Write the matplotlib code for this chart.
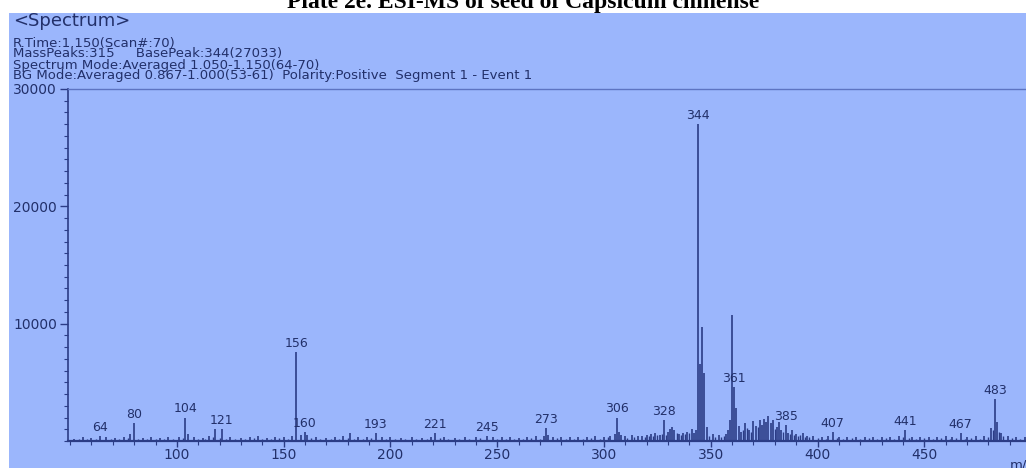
import matplotlib
matplotlib.use("Agg")
import matplotlib.pyplot as plt
from matplotlib.patches import Rectangle
from matplotlib.ticker import MultipleLocator, FixedLocator

plt.rcParams["font.family"] = "DejaVu Sans"

BG = "#9bb6fc"
INK = "#22306a"
STICK = "#2b3c86"

TITLE = "Plate 2e. ESI-MS of seed of Capsicum chinense"
HEADER = [
    "R.Time:1.150(Scan#:70)",
    "MassPeaks:315     BasePeak:344(27033)",
    "Spectrum Mode:Averaged 1.050-1.150(64-70)",
    "BG Mode:Averaged 0.867-1.000(53-61)  Polarity:Positive  Segment 1 - Event 1",
]

# centroid peaks: m/z and intensity
mz = [52, 56, 60, 64, 67, 71, 75, 78, 80, 84, 88, 92, 96, 101, 104, 105, 108,
      112, 115, 118, 121, 125, 130, 134, 138, 142, 146, 150, 154, 156, 158,
      160, 161, 165, 170, 174, 178, 181, 185, 189, 193, 196, 200, 205, 210,
      215, 219, 221, 225, 230, 235, 240, 245, 248, 252, 256, 260, 264, 268,
      272, 273, 274, 276, 280, 284, 288, 292, 296, 300, 303, 305, 306, 307,
      308, 310, 313, 316, 318, 320, 322, 324, 326, 328, 330, 331, 332, 333,
      335, 337, 339, 341, 342, 343, 344, 345, 346, 347, 348, 351, 354, 357,
      358, 359, 360, 361, 362, 363, 364, 366, 368, 370, 371, 373, 374, 375,
      376, 377, 378, 379, 381, 382, 383, 385, 386, 388, 390, 393, 395, 398,
      402, 405, 407, 410, 414, 418, 422, 426, 430, 434, 438, 441, 444, 448,
      452, 456, 460, 463, 467, 470, 474, 478, 481, 483, 484, 486, 489, 493,
      497]
intensity = [200, 300, 250, 400, 300, 250, 350, 600, 1500, 250, 300, 250, 300,
             350, 2000, 600, 300, 250, 400, 1000, 1050, 300, 250, 300, 450, 250,
             300, 350, 400, 7600, 500, 750, 550, 300, 250, 300, 400, 650, 300,
             350, 650, 350, 300, 250, 300, 250, 350, 650, 300, 250, 300, 350,
             400, 300, 350, 300, 250, 350, 400, 400, 1100, 500, 350, 300, 350,
             300, 350, 400, 350, 450, 600, 2000, 800, 500, 400, 500, 450, 400,
             500, 600, 700, 500, 1800, 800, 1000, 1200, 900, 600, 700, 800,
             1000, 700, 900, 27033, 6600, 9700, 5800, 1200, 600, 500, 600, 900,
             1800, 10700, 4600, 2800, 1300, 800, 1500, 900, 1700, 1300, 1800,
             1400, 1900, 1600, 2100, 1500, 1800, 1200, 1600, 900, 1350, 700,
             900, 600, 700, 400, 400, 300, 400, 750, 300, 350, 300, 350, 300,
             350, 300, 400, 900, 350, 300, 350, 300, 400, 350, 650, 350, 400,
             450, 1100, 3550, 1600, 700, 400, 350, 300]

# low-level noise sticks along the baseline
noise_mz = [54, 58, 62, 69, 73, 77, 82, 86, 90, 94, 98, 103, 110, 113, 117,
            120, 123, 127, 132, 136, 140, 144, 148, 152, 163, 167, 172, 176,
            180, 183, 187, 191, 198, 202, 207, 212, 217, 223, 227, 232, 237,
            242, 250, 254, 258, 262, 266, 270, 278, 282, 286, 290, 294, 298,
            302, 311, 314, 319, 321, 323, 325, 327, 329, 334, 336, 338, 340,
            349, 352, 355, 356, 365, 367, 369, 372, 380, 384, 387, 389, 391,
            392, 394, 396, 400, 404, 409, 412, 416, 420, 424, 428, 432, 436,
            440, 443, 446, 450, 454, 458, 462, 465, 469, 472, 476, 480, 482,
            485, 487, 491, 495, 499]
noise_int = [150, 200, 150, 200, 150, 250, 200, 150, 200, 150, 200, 250, 200,
             150, 300, 250, 200, 150, 200, 250, 150, 200, 250, 200, 250, 200,
             150, 200, 250, 200, 150, 250, 200, 150, 200, 150, 200, 250, 200,
             150, 200, 250, 200, 150, 200, 150, 250, 200, 250, 200, 150, 200,
             250, 200, 300, 250, 300, 350, 400, 450, 500, 600, 500, 700, 500,
             600, 700, 400, 300, 350, 400, 900, 1100, 800, 1200, 1000, 800,
             600, 500, 400, 500, 350, 300, 250, 200, 250, 200, 250, 200, 250,
             200, 250, 200, 300, 250, 200, 250, 200, 250, 200, 250, 200, 250,
             200, 300, 900, 800, 400, 250, 200, 150]

labelled = [64, 80, 104, 121, 156, 160, 193, 221, 245, 273, 306, 328, 344,
            361, 385, 407, 441, 467, 483]

W, H = 1026, 468
fig = plt.figure(figsize=(W / 100, H / 100), dpi=100)
fig.add_artist(Rectangle((9 / W, 0), 1, (H - 13) / H, transform=fig.transFigure,
                         facecolor=BG, edgecolor="none", zorder=-10))

fig.text(523 / W, 1 - 8 / H, TITLE, ha="center", va="baseline",
         fontsize=17, fontweight="bold", family="Liberation Serif", color="black")
fig.text(13 / W, 1 - 21 / H, "<Spectrum>", ha="left", va="center",
         fontsize=13, color=INK)
for k, line in enumerate(HEADER):
    fig.text(13 / W, 1 - (43 + 11 * k) / H, line, ha="left", va="center",
             fontsize=9.5, color=INK)
fig.text(1010 / W, 1 - 459 / H, "m/z", ha="left", va="top", fontsize=9.5, color=INK)

ax = fig.add_axes([68 / W, 27 / H, 0.9387, 352 / H])
ax.patch.set_alpha(0)
ax.vlines(noise_mz, 0, noise_int, color=STICK, lw=1.0)
ax.vlines(mz, 0, intensity, color=STICK, lw=1.2)

for m in labelled:
    y = intensity[mz.index(m)]
    ax.annotate(str(m), (m, y), xytext=(0, 1.5), textcoords="offset points",
                ha="center", va="bottom", fontsize=9, color=INK)

ax.set_xlim(49, 500)
ax.set_ylim(0, 30000)

for side in ("left", "bottom"):
    ax.spines[side].set_color(STICK)
ax.spines["left"].set_linewidth(1.2)
ax.spines["bottom"].set_linewidth(1.6)
ax.spines["top"].set_color("#5d74c2")
ax.spines["top"].set_linewidth(1.0)
ax.spines["right"].set_visible(False)

ax.xaxis.set_major_locator(FixedLocator([100, 150, 200, 250, 300, 350, 400, 450]))
ax.xaxis.set_minor_locator(MultipleLocator(10))
ax.yaxis.set_major_locator(FixedLocator([10000, 20000, 30000]))
ax.yaxis.set_minor_locator(MultipleLocator(1000))
ax.tick_params(which="both", direction="out", color=STICK, labelcolor=INK,
               labelsize=10)
ax.tick_params(axis="x", which="major", length=4, width=1.0, pad=1)
ax.tick_params(axis="y", which="major", length=6, width=1.0, pad=2)
ax.tick_params(which="minor", length=3, width=0.8)

fig.savefig("out.png", dpi=100, facecolor="white")
